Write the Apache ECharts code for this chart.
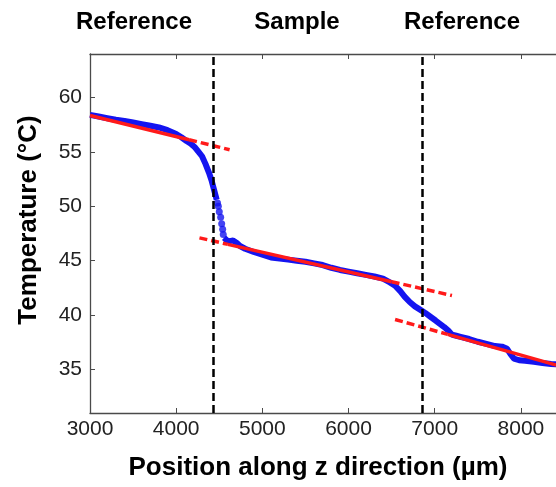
<!DOCTYPE html>
<html>
<head>
<meta charset="utf-8">
<script src="https://cdn.jsdelivr.net/npm/echarts@6/dist/echarts.min.js"></script>
<style>
html, body { margin: 0; padding: 0; background: #fff; }
#main { width: 556px; height: 487px; }
</style>
</head>
<body>
<div id="main"></div>
<script>
// measured temperature, upper reference part (before the drop)
var posBefore  = [3000, 3100, 3200, 3300, 3400, 3500, 3600, 3700, 3800, 3900, 4000, 4060, 4120, 4170, 4220, 4260, 4300, 4340, 4380, 4410, 4440, 4470];
var tempBefore = [58.4, 58.25, 58.1, 57.95, 57.85, 57.7, 57.55, 57.4, 57.25, 57.0, 56.65, 56.35, 56.0, 55.75, 55.4, 55.0, 54.6, 53.9, 53.1, 52.4, 51.5, 50.6];
// separate dots on the steep part
var posDrop  = [4480, 4489, 4500, 4516, 4528, 4539, 4546];
var tempDrop = [50.3, 50.0, 49.5, 49.0, 48.4, 47.9, 47.4];
// sample + lower reference
var posAfter  = [4555, 4590, 4620, 4660, 4700, 4740, 4800, 4900, 5000, 5100, 5200, 5300, 5400, 5500, 5600, 5700, 5800, 5900, 6000, 6100, 6200, 6300, 6400, 6480, 6540, 6600, 6650, 6710, 6770, 6830, 6890, 6950, 7010, 7060, 7110, 7160, 7200, 7250, 7300, 7400, 7500, 7600, 7700, 7780, 7840, 7880, 7920, 7980, 8050, 8150, 8250, 8350, 8450];
var tempAfter = [47.1, 46.85, 46.8, 46.85, 46.65, 46.35, 46.1, 45.8, 45.55, 45.3, 45.2, 45.1, 45.0, 44.9, 44.75, 44.6, 44.35, 44.15, 44.0, 43.85, 43.7, 43.55, 43.35, 43.0, 42.7, 42.2, 41.7, 41.2, 40.8, 40.5, 40.2, 39.85, 39.5, 39.2, 38.9, 38.55, 38.2, 38.1, 38.0, 37.8, 37.55, 37.35, 37.15, 37.1, 36.9, 36.4, 36.0, 35.85, 35.8, 35.7, 35.6, 35.5, 35.45];

// linear fits: solid where they follow the data, dashed extensions
var fitSolid = [
    [[3000, 58.35], [4150, 56.12]],
    [[4600, 46.5], [6500, 43.07]],
    [[7150, 38.23], [8500, 35.2]]
];
var fitDashed = [
    [[4150, 56.12], [4620, 55.2]],
    [[4270, 47.1], [4600, 46.5]],
    [[6500, 43.07], [7200, 41.8]],
    [[6540, 39.6], [7150, 38.23]]
];

var boundaries = [4430, 6850];
var regionNames = ['Reference', 'Sample', 'Reference'];
var regionCenters = [134, 297, 462];
var yTicks = [35, 40, 45, 50, 55, 60];

var pairs = function (xs, ys) {
    var res = [];
    for (var i = 0; i < xs.length; i++) {
        res.push([xs[i], ys[i]]);
    }
    return res;
};

var font = '"Liberation Sans", Arial, sans-serif';
var axisCol = '#4a4a4a';
var blue = '#1414f0';
var red = '#ff1a1a';

var series = [];
series.push({
    type: 'line', data: pairs(posBefore, tempBefore), showSymbol: false,
    lineStyle: { color: blue, width: 6 }, z: 2, silent: true
});
series.push({
    type: 'line', data: pairs(posAfter, tempAfter), showSymbol: false,
    lineStyle: { color: blue, width: 6 }, z: 2, silent: true
});
series.push({
    type: 'scatter', data: pairs(posDrop, tempDrop), symbolSize: 7,
    itemStyle: { color: blue }, z: 2, silent: true
});
fitSolid.forEach(function (seg) {
    series.push({
        type: 'line', data: seg, showSymbol: false,
        lineStyle: { color: red, width: 3.5 }, z: 3, silent: true
    });
});
fitDashed.forEach(function (seg) {
    series.push({
        type: 'line', data: seg, showSymbol: false,
        lineStyle: { color: red, width: 3.5, type: [8, 4] }, z: 3, silent: true
    });
});
// boundary markers
series.push({
    type: 'line', data: [], z: 4,
    markLine: {
        silent: true, symbol: 'none', label: { show: false },
        lineStyle: { color: '#000', width: 2.5, type: [8, 4] },
        data: boundaries.map(function (b) { return { xAxis: b }; })
    }
});

var graphics = regionNames.map(function (t, i) {
    return {
        type: 'text', x: regionCenters[i], y: 22,
        style: { text: t, font: 'bold 24px ' + font, fill: '#000', align: 'center', verticalAlign: 'middle', textAlign: 'center', textVerticalAlign: 'middle' }
    };
});
graphics.push({
    type: 'text', x: 318, y: 468,
    style: { text: 'Position along z direction (µm)', font: 'bold 26px ' + font, fill: '#000', align: 'center', verticalAlign: 'middle', textAlign: 'center', textVerticalAlign: 'middle' }
});
graphics.push({
    type: 'text', x: 29, y: 220, rotation: Math.PI / 2,
    style: { text: 'Temperature (°C)', font: 'bold 26px ' + font, fill: '#000', align: 'center', verticalAlign: 'middle', textAlign: 'center', textVerticalAlign: 'middle' }
});

option = {
    backgroundColor: '#fff',
    animation: false,
    grid: { left: 90, top: 54, right: -8, bottom: 74, containLabel: false, outerBoundsMode: 'none' },
    xAxis: [
        {
            type: 'value', position: 'bottom', min: 3000, max: 8500, interval: 1000,
            axisLine: { show: true, lineStyle: { color: axisCol, width: 1.3 } },
            axisTick: { show: true, inside: true, length: 5, lineStyle: { color: axisCol } },
            axisLabel: { color: '#222', fontSize: 21, fontFamily: font, margin: 6,
                formatter: function (v) { return String(v); } },
            splitLine: { show: false }
        },
        {
            type: 'value', position: 'top', min: 3000, max: 8500, interval: 1000,
            axisLine: { show: true, lineStyle: { color: axisCol, width: 1.3 } },
            axisTick: { show: true, inside: true, length: 5, lineStyle: { color: axisCol } },
            axisLabel: { show: false },
            splitLine: { show: false }
        }
    ],
    yAxis: {
        type: 'value', min: 31, max: 64,
        axisLine: { show: true, lineStyle: { color: axisCol, width: 1.3 } },
        axisTick: { show: true, inside: true, length: 5, customValues: yTicks, lineStyle: { color: axisCol } },
        axisLabel: { color: '#222', fontSize: 21, fontFamily: font, margin: 8, customValues: yTicks },
        splitLine: { show: false }
    },
    graphic: graphics,
    series: series
};

var myChart = echarts.init(document.getElementById('main'));
myChart.setOption(option);
</script>
</body>
</html>
